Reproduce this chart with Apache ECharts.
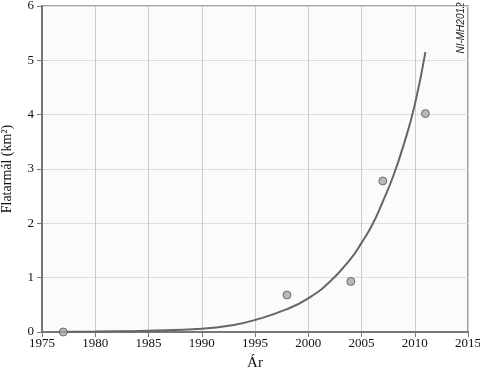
<!DOCTYPE html>
<html><head><meta charset="utf-8">
<script src="https://cdn.jsdelivr.net/npm/echarts@6/dist/echarts.min.js"></script>
<style>html,body{margin:0;padding:0;background:#fff}#c{width:480px;height:372px}</style>
</head><body><div id="c"></div>
<script>
const obsYears = [1977, 1998, 2004, 2007, 2011];
const obsArea = [0.0, 0.68, 0.93, 2.78, 4.02];
const fitYears = [1977, 1980, 1985, 1990, 1993, 1995, 1998, 2000, 2002, 2004, 2005, 2006, 2007, 2008, 2009, 2010, 2011];
const fitArea = [0.005, 0.01, 0.025, 0.06, 0.13, 0.22, 0.42, 0.62, 0.92, 1.35, 1.64, 1.97, 2.4, 2.88, 3.47, 4.18, 5.15];
const xTicks = [1975, 1980, 1985, 1990, 1995, 2000, 2005, 2010, 2015];
const yTicks = [0, 1, 2, 3, 4, 5, 6];

const chart = echarts.init(document.getElementById('c'));
const serif = '"Liberation Serif", "DejaVu Serif", serif';
chart.setOption({
  animation: false,
  grid: {left: 42, right: 12, top: 6, bottom: 40, show: true, borderColor: '#888', borderWidth: 1.5, backgroundColor: '#fbfbfb', outerBoundsMode: 'none', containLabel: false},
  xAxis: {
    type: 'value', min: xTicks[0], max: xTicks[xTicks.length-1], interval: 5,
    name: 'Ár', nameLocation: 'middle', nameGap: 24,
    nameTextStyle: {fontFamily: serif, fontSize: 15, color: '#111'},
    axisLine: {onZero: false, lineStyle: {color: '#777', width: 2}},
    axisTick: {show: true, length: 5, lineStyle: {color: '#777'}},
    axisLabel: {fontFamily: serif, fontSize: 13, color: '#111', margin: 5, formatter: v => String(v)},
    splitLine: {lineStyle: {color: '#ccc'}}
  },
  yAxis: {
    type: 'value', min: yTicks[0], max: yTicks[yTicks.length-1], interval: 1,
    name: 'Flatarmál (km²)', nameLocation: 'middle', nameGap: 28,
    nameTextStyle: {fontFamily: serif, fontSize: 14, color: '#111'},
    axisLine: {show: true, lineStyle: {color: '#777', width: 2}},
    axisTick: {show: true, length: 5, lineStyle: {color: '#777'}},
    axisLabel: {fontFamily: serif, fontSize: 13, color: '#111', margin: 8},
    splitLine: {lineStyle: {color: '#ddd'}}
  },
  series: [
    {type: 'line', data: fitYears.map((y, i) => [y, fitArea[i]]), smooth: true, showSymbol: false,
     lineStyle: {color: '#666', width: 2}, z: 2},
    {type: 'scatter', data: obsYears.map((y, i) => [y, obsArea[i]]), symbolSize: 8,
     itemStyle: {color: '#a8a8a8', borderColor: '#555', borderWidth: 1}, z: 3}
  ],
  graphic: [{type: 'text', x: 461, y: 28, rotation: Math.PI/2,
    style: {text: 'NI-MH2012', font: 'italic 10px "Liberation Sans", Arial, sans-serif', fill: '#222', align: 'center', verticalAlign: 'middle'}}]
});
</script></body></html>
